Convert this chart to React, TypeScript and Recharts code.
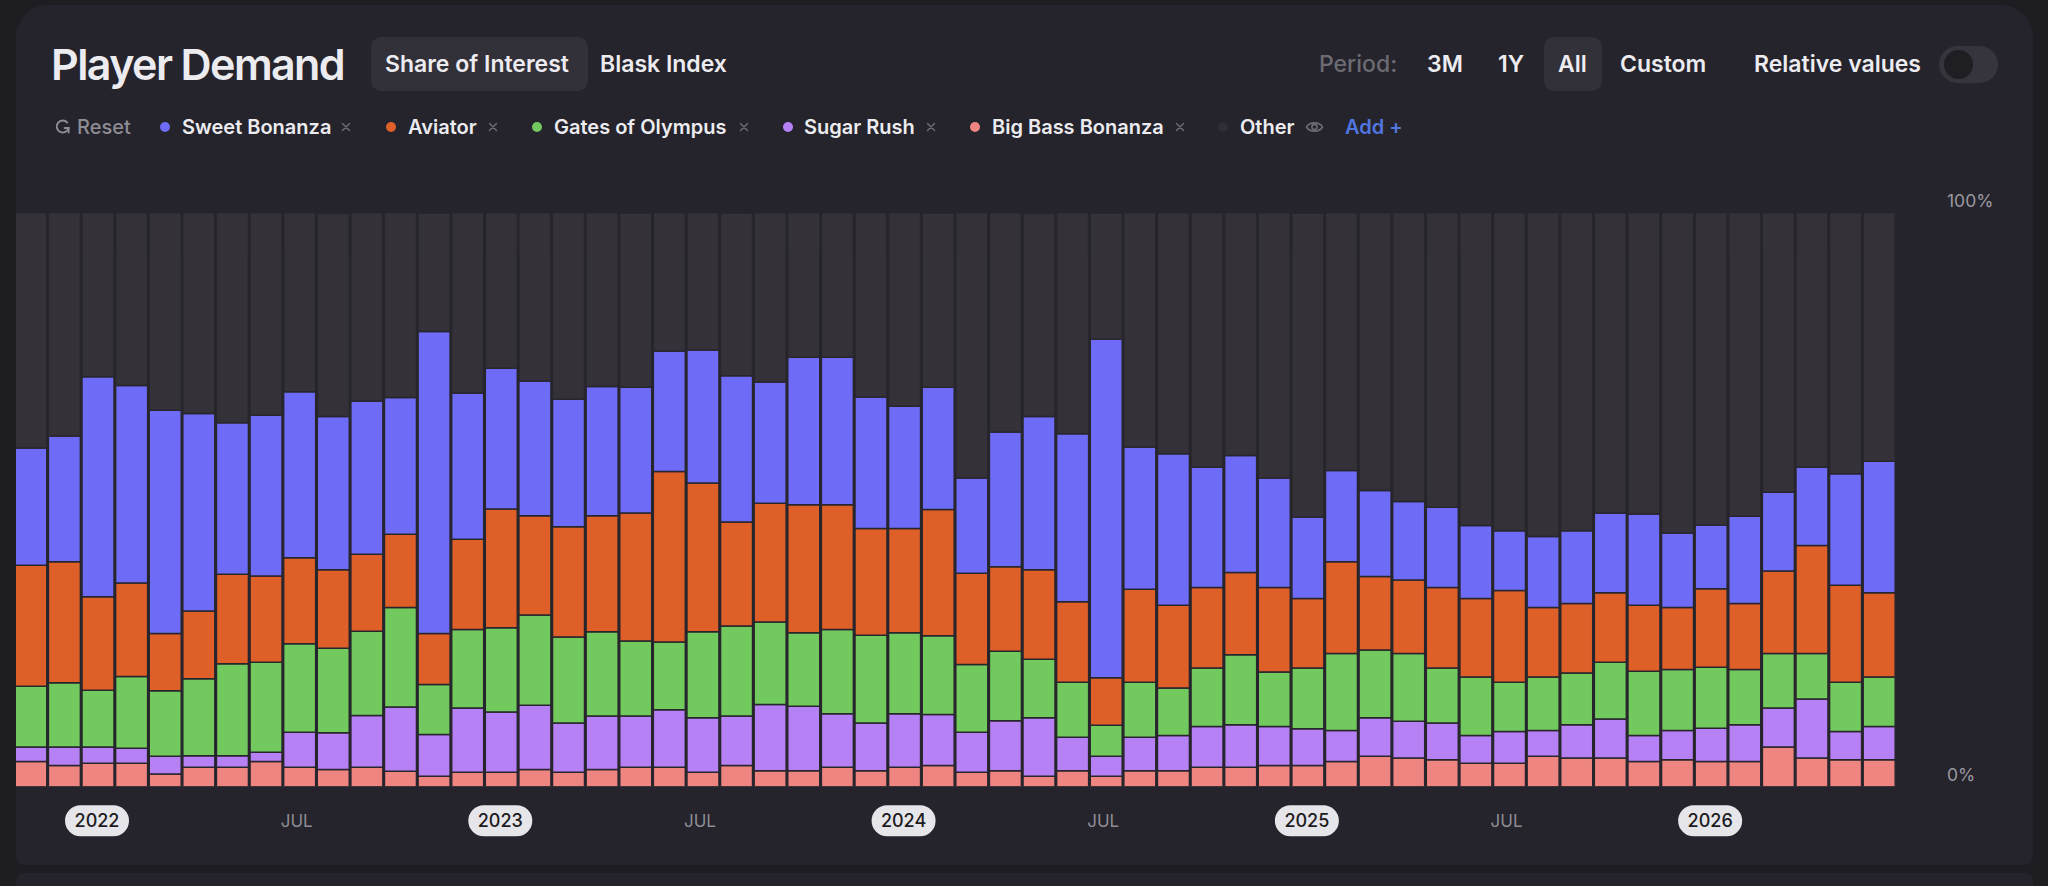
import React from "react";
import { BarChart, Bar, XAxis, YAxis } from "recharts";

const months = [
  "2021-11", "2021-12",
  "2022-01", "2022-02", "2022-03", "2022-04", "2022-05", "2022-06",
  "2022-07", "2022-08", "2022-09", "2022-10", "2022-11", "2022-12",
  "2023-01", "2023-02", "2023-03", "2023-04", "2023-05", "2023-06",
  "2023-07", "2023-08", "2023-09", "2023-10", "2023-11", "2023-12",
  "2024-01", "2024-02", "2024-03", "2024-04", "2024-05", "2024-06",
  "2024-07", "2024-08", "2024-09", "2024-10", "2024-11", "2024-12",
  "2025-01", "2025-02", "2025-03", "2025-04", "2025-05", "2025-06",
  "2025-07", "2025-08", "2025-09", "2025-10", "2025-11", "2025-12",
  "2026-01", "2026-02", "2026-03", "2026-04", "2026-05", "2026-06",
];

// Share of interest (%) per month
const bigBassBonanza = [
  4.4, 3.7, 4.1, 4.1, 2.2, 3.4, 3.4, 4.4, 3.4, 3.0, 3.4, 2.7, 1.8, 2.5,
  2.5, 3.0, 2.5, 3.0, 3.4, 3.4, 2.5, 3.7, 2.8, 2.8, 3.4, 2.8, 3.4, 3.7,
  2.5, 2.8, 1.8, 2.8, 1.8, 2.8, 2.8, 3.4, 3.4, 3.7, 3.7, 4.4, 5.3, 5.0,
  4.7, 4.1, 4.1, 5.3, 5.0, 5.0, 4.4, 4.7, 4.4, 4.4, 6.9, 5.0, 4.7, 4.7,
];
const sugarRush = [
  2.5, 3.2, 2.8, 2.6, 3.1, 2.0, 2.0, 1.6, 6.1, 6.4, 9.0, 11.2, 7.3, 11.2,
  10.5, 11.2, 8.6, 9.3, 8.9, 10.0, 9.5, 8.6, 11.5, 11.2, 9.3, 8.3, 9.3, 8.9,
  7.0, 8.7, 10.2, 5.8, 3.5, 5.8, 6.1, 7.1, 7.4, 6.8, 6.4, 5.4, 6.7, 6.4,
  6.4, 4.8, 5.5, 4.5, 5.8, 6.8, 4.5, 5.1, 5.8, 6.4, 6.8, 10.3, 4.9, 5.8,
];
const gatesOfOlympus = [
  10.6, 11.2, 9.9, 12.5, 11.4, 13.4, 16.0, 15.7, 15.4, 14.7, 14.7, 17.3, 8.7, 13.7,
  14.7, 15.7, 15.0, 14.7, 13.1, 11.8, 15.0, 15.7, 14.4, 12.8, 14.7, 15.3, 14.1, 13.7,
  11.8, 12.1, 10.2, 9.6, 5.4, 9.6, 8.3, 10.2, 12.2, 9.5, 10.6, 13.4, 11.8, 11.8,
  9.6, 10.2, 8.6, 9.3, 9.0, 9.9, 11.2, 10.6, 10.6, 9.6, 9.5, 7.9, 8.6, 8.6,
];
const aviator = [
  21.1, 21.1, 16.3, 16.3, 10.0, 11.8, 15.6, 15.0, 15.0, 13.7, 13.4, 12.8, 8.9, 15.7,
  20.7, 17.3, 19.2, 20.2, 22.3, 29.7, 25.9, 18.1, 20.7, 22.3, 21.7, 18.6, 18.2, 22.0,
  15.9, 14.7, 15.6, 14.0, 8.3, 16.2, 14.4, 14.0, 14.3, 14.7, 12.1, 16.0, 12.8, 12.8,
  14.0, 13.7, 16.0, 12.1, 12.1, 12.1, 11.5, 10.8, 13.7, 11.5, 14.4, 18.8, 16.9, 14.7,
];
const sweetBonanza = [
  20.4, 21.9, 38.3, 34.4, 38.9, 34.4, 26.4, 28.0, 28.9, 26.7, 26.7, 23.8, 52.6, 25.5,
  24.5, 23.5, 22.2, 22.5, 21.9, 21.0, 23.2, 25.5, 21.1, 25.7, 25.7, 22.9, 21.3, 21.3,
  16.6, 23.5, 26.7, 29.3, 59.0, 24.8, 26.4, 21.0, 20.4, 19.1, 14.2, 15.9, 15.0, 13.7,
  14.0, 12.7, 10.4, 12.4, 12.7, 13.9, 15.9, 13.0, 11.1, 15.2, 13.7, 13.7, 19.4, 22.9,
];
const other = [
  41.1, 38.9, 28.6, 30.2, 34.4, 35.0, 36.6, 35.3, 31.2, 35.3, 32.8, 32.2, 20.6, 31.5,
  27.1, 29.3, 32.5, 30.3, 30.3, 24.2, 23.9, 28.3, 29.6, 25.2, 25.2, 32.2, 33.7, 30.3,
  46.2, 38.3, 35.3, 38.5, 21.9, 40.8, 42.0, 44.3, 42.4, 46.2, 52.9, 44.9, 48.4, 50.3,
  51.3, 54.5, 55.5, 56.4, 55.5, 52.3, 52.5, 55.8, 54.5, 52.9, 48.7, 44.3, 45.6, 43.3,
];

const xTickMonths = [
  "2022-01", "2022-07", "2023-01", "2023-07", "2024-01",
  "2024-07", "2025-01", "2025-07", "2026-01",
];
const xTickLabels = ["2022", "JUL", "2023", "JUL", "2024", "JUL", "2025", "JUL", "2026"];
const yTicks = [0, 100];
const yTickLabels = ["0%", "100%"];

const legendNames = ["Sweet Bonanza", "Aviator", "Gates of Olympus", "Sugar Rush", "Big Bass Bonanza"];

const data = months.map((m, i) => ({
  month: m,
  bigBass: bigBassBonanza[i],
  sugar: sugarRush[i],
  gates: gatesOfOlympus[i],
  aviator: aviator[i],
  sweet: sweetBonanza[i],
  other: other[i],
}));

const FONT = "Inter, 'Noto Sans', 'DejaVu Sans', sans-serif";
const C = {
  page: "#1e1d22",
  card: "#25232b",
  blue: "#6e6cf6",
  orange: "#df5f29",
  green: "#72ca5e",
  purple: "#b781f6",
  pink: "#ef8581",
  other: "#343139",
  stroke: "#28262d",
  text: "#ececf0",
  muted: "#8e8d94",
  dim: "#6b6a71",
};

function XTick(props: any) {
  const { x, y, payload } = props;
  const idx = xTickMonths.indexOf(payload && payload.value);
  if (idx < 0) return <g />;
  const label = xTickLabels[idx];
  const cy = y + 34;
  if (label !== "JUL") {
    return (
      <g>
        <rect x={x - 33} y={cy - 15.5} width={64} height={31} rx={15.5} fill="#e6e5ea" />
        <text
          x={x - 1}
          y={cy}
          textAnchor="middle"
          dominantBaseline="central"
          fontSize={18}
          fontWeight={500}
          fontFamily={FONT}
          fill="#1c1b20"
        >
          {label}
        </text>
      </g>
    );
  }
  return (
    <text
      x={x - 3}
      y={cy}
      textAnchor="middle"
      dominantBaseline="central"
      fontSize={17}
      fontWeight={400}
      fontFamily={FONT}
      fill={C.muted}
    >
      {label}
    </text>
  );
}

function YTick(props: any) {
  const { x, y, payload } = props;
  const idx = yTicks.indexOf(payload && payload.value);
  if (idx < 0) return <g />;
  return (
    <text
      x={x + 51}
      y={y - 12}
      textAnchor="start"
      dominantBaseline="central"
      fontSize={17.5}
      fontFamily={FONT}
      fill="#9a99a0"
    >
      {yTickLabels[idx]}
    </text>
  );
}

function Txt(props: any) {
  const { x, cy, size, color, weight = 500, ls = 0, children } = props;
  return (
    <div
      style={{
        position: "absolute",
        left: x,
        top: cy - size,
        height: size * 2,
        lineHeight: `${size * 2}px`,
        fontSize: size,
        color,
        fontWeight: weight,
        letterSpacing: ls,
        whiteSpace: "nowrap",
        fontFamily: FONT,
      }}
    >
      {children}
    </div>
  );
}

function Dot({ cx, cy, color }: any) {
  return (
    <div
      style={{
        position: "absolute",
        left: cx - 5,
        top: cy - 5,
        width: 10,
        height: 10,
        borderRadius: 5,
        background: color,
      }}
    />
  );
}

function Close({ cx, cy }: any) {
  return (
    <svg style={{ position: "absolute", left: cx - 5, top: cy - 5 }} width={10} height={10}>
      <path d="M1.5 1.5 L8.5 8.5 M8.5 1.5 L1.5 8.5" stroke={C.dim} strokeWidth={1.5} strokeLinecap="round" />
    </svg>
  );
}

export default function App() {
  const legendLayout = [
    { dot: 165, text: 182, close: 346, color: C.blue },
    { dot: 391, text: 408, close: 493, color: C.orange },
    { dot: 537, text: 554, close: 744, color: C.green },
    { dot: 788, text: 804, close: 931, color: C.purple },
    { dot: 975, text: 992, close: 1180, color: C.pink },
  ];
  const LY = 127;
  return (
    <div
      style={{
        position: "absolute",
        left: 0,
        top: 0,
        width: 2048,
        height: 886,
        background: C.page,
        overflow: "hidden",
        fontFamily: FONT,
      }}
    >
      {/* main card */}
      <div
        style={{
          position: "absolute",
          left: 16,
          top: 5,
          width: 2017,
          height: 860,
          background: C.card,
          borderRadius: "32px 32px 8px 8px",
          overflow: "hidden",
        }}
      >
        <div style={{ position: "absolute", left: -16, top: -5 }}>
          <BarChart
            width={2048}
            height={886}
            data={data}
            margin={{ top: 212.7, right: 52, bottom: 49.3, left: 14 }}
            barCategoryGap={0.8}
          >
            <XAxis
              dataKey="month"
              interval={0}
              height={50}
              axisLine={false}
              tickLine={false}
              tickSize={0}
              tickMargin={0}
              tick={<XTick />}
            />
            <YAxis
              orientation="right"
              width={100}
              domain={[0, 100]}
              allowDataOverflow
              ticks={yTicks}
              interval={0}
              axisLine={false}
              tickLine={false}
              tickSize={0}
              tickMargin={0}
              tick={<YTick />}
            />
            <Bar dataKey="bigBass" stackId="s" fill={C.pink} stroke={C.stroke} strokeWidth={1.5} isAnimationActive={false} />
            <Bar dataKey="sugar" stackId="s" fill={C.purple} stroke={C.stroke} strokeWidth={1.5} isAnimationActive={false} />
            <Bar dataKey="gates" stackId="s" fill={C.green} stroke={C.stroke} strokeWidth={1.5} isAnimationActive={false} />
            <Bar dataKey="aviator" stackId="s" fill={C.orange} stroke={C.stroke} strokeWidth={1.5} isAnimationActive={false} />
            <Bar dataKey="sweet" stackId="s" fill={C.blue} stroke={C.stroke} strokeWidth={1.5} isAnimationActive={false} />
            <Bar dataKey="other" stackId="s" fill={C.other} stroke={C.stroke} strokeWidth={1.5} isAnimationActive={false} />
          </BarChart>
        </div>
      </div>

      {/* bottom card */}
      <div
        style={{
          position: "absolute",
          left: 16,
          top: 873,
          width: 2017,
          height: 40,
          background: C.card,
          borderRadius: 8,
        }}
      />

      {/* header */}
      <Txt x={51} cy={64} size={43} color={C.text} weight={600} ls={-1.6}>
        Player Demand
      </Txt>
      <div
        style={{
          position: "absolute",
          left: 371,
          top: 37,
          width: 217,
          height: 54,
          borderRadius: 10,
          background: "#323039",
        }}
      />
      <Txt x={385} cy={64} size={23} color={C.text} weight={600}>
        Share of Interest
      </Txt>
      <Txt x={600} cy={64} size={23} color={C.text} weight={600}>
        Blask Index
      </Txt>

      <Txt x={1319} cy={64} size={23} color="#6c6b72" weight={500}>
        Period:
      </Txt>
      <Txt x={1427} cy={64} size={23} color={C.text} weight={600}>
        3M
      </Txt>
      <Txt x={1498} cy={64} size={23} color={C.text} weight={600}>
        1Y
      </Txt>
      <div
        style={{
          position: "absolute",
          left: 1544,
          top: 37,
          width: 58,
          height: 54,
          borderRadius: 10,
          background: "#323039",
        }}
      />
      <Txt x={1558} cy={64} size={23} color={C.text} weight={600}>
        All
      </Txt>
      <Txt x={1620} cy={64} size={23} color={C.text} weight={600}>
        Custom
      </Txt>
      <Txt x={1754} cy={64} size={23} color={C.text} weight={600}>
        Relative values
      </Txt>
      <div
        style={{
          position: "absolute",
          left: 1939,
          top: 46,
          width: 59,
          height: 37,
          borderRadius: 18.5,
          background: "#36343c",
        }}
      />
      <div
        style={{
          position: "absolute",
          left: 1944,
          top: 50,
          width: 29,
          height: 29,
          borderRadius: 14.5,
          background: "#1f1e23",
        }}
      />

      {/* legend row */}
      <svg style={{ position: "absolute", left: 55, top: LY - 8 }} width={16} height={16}>
        <path d="M12.3 3.6 A6 6 0 1 0 13.6 9" fill="none" stroke={C.muted} strokeWidth={1.9} strokeLinecap="round" />
        <path d="M9.6 9 L13.6 9 L13.6 13.5" fill="none" stroke={C.muted} strokeWidth={1.9} strokeLinecap="round" />
      </svg>
      <Txt x={77} cy={LY} size={20} color={C.muted} weight={500}>
        Reset
      </Txt>
      {legendLayout.map((l, i) => (
        <React.Fragment key={legendNames[i]}>
          <Dot cx={l.dot} cy={LY} color={l.color} />
          <Txt x={l.text} cy={LY} size={20} color={C.text} weight={600}>
            {legendNames[i]}
          </Txt>
          <Close cx={l.close} cy={LY} />
        </React.Fragment>
      ))}
      <Dot cx={1223} cy={LY} color="#2f2d34" />
      <Txt x={1240} cy={LY} size={20} color={C.text} weight={600}>
        Other
      </Txt>
      <svg style={{ position: "absolute", left: 1305, top: LY - 7 }} width={19} height={14}>
        <path d="M1.5 7 C4.5 1.5 14.5 1.5 17.5 7 C14.5 12.5 4.5 12.5 1.5 7 Z" fill="none" stroke={C.dim} strokeWidth={1.6} />
        <circle cx={9.5} cy={7} r={2.6} fill="none" stroke={C.dim} strokeWidth={1.6} />
      </svg>
      <Txt x={1345} cy={LY} size={20} color="#5176e0" weight={600}>
        Add +
      </Txt>
    </div>
  );
}
